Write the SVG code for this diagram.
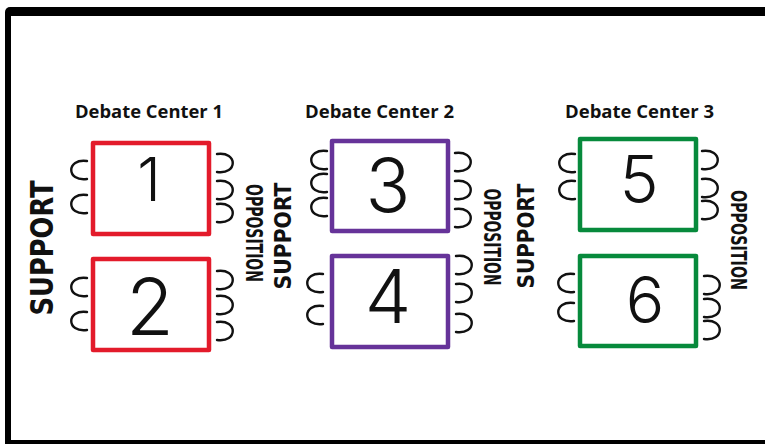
<svg xmlns="http://www.w3.org/2000/svg" xmlns:xlink="http://www.w3.org/1999/xlink" width="765" height="444" viewBox="0 0 765 444">
  <style>
    .title { font-family: "Open Sans", "Liberation Sans", sans-serif; font-weight: 700; font-size: 18px; fill: #111; }
    .table { fill: none; stroke-width: 4.5; stroke-linejoin: round; }
    .red { stroke: #e31b2b; }
    .purple { stroke: #663399; }
    .green { stroke: #078a3c; }
    .num { font-family: "Inter", "Lato", sans-serif; font-weight: 300; fill: #111; text-anchor: middle; }
    .side { font-family: "DejaVu Sans Condensed", "DejaVu Sans", sans-serif; font-weight: 700; fill: #111; text-anchor: middle; dominant-baseline: central; }
    .chair { fill: none; stroke: #111; stroke-width: 2.4; stroke-linecap: round; }
  </style>
  <defs>
    <!-- chair seen from above, opening toward the table -->
    <path id="chairL" class="chair" d="M 9 -9 C -12 -12, -12 12, 9 9"/>
    <path id="chairR" class="chair" d="M -9 -9 C 12 -12, 12 12, -9 9"/>
  </defs>

  <rect width="765" height="444" fill="#fff"/>
  <!-- frame -->
  <rect x="5" y="7" width="800" height="460" rx="5" fill="#000"/>
  <rect x="11" y="16" width="800" height="424" fill="#fff"/>

  <!-- center titles -->
  <text class="title" x="75" y="118" textLength="148" lengthAdjust="spacingAndGlyphs">Debate Center 1</text>
  <text class="title" x="305" y="118" textLength="149" lengthAdjust="spacingAndGlyphs">Debate Center 2</text>
  <text class="title" x="565" y="118" textLength="149" lengthAdjust="spacingAndGlyphs">Debate Center 3</text>

  <!-- Center 1 -->
  <g id="table1">
    <rect class="table red" x="93" y="143" width="116" height="91"/>
    <text class="num" x="149" y="201" font-size="60">1</text>
    <use xlink:href="#chairL" x="78" y="170"/>
    <use xlink:href="#chairL" x="78" y="204"/>
    <use xlink:href="#chairR" x="226" y="163"/>
    <use xlink:href="#chairR" x="226" y="190"/>
    <use xlink:href="#chairR" x="226" y="213"/>
  </g>
  <g id="table2">
    <rect class="table red" x="93" y="259" width="116" height="91"/>
    <text class="num" x="150" y="335" font-size="78">2</text>
    <use xlink:href="#chairL" x="78" y="287"/>
    <use xlink:href="#chairL" x="78" y="321"/>
    <use xlink:href="#chairR" x="226" y="280"/>
    <use xlink:href="#chairR" x="226" y="305"/>
    <use xlink:href="#chairR" x="226" y="331"/>
  </g>

  <!-- Center 2 -->
  <g id="table3">
    <rect class="table purple" x="332" y="141" width="116" height="90"/>
    <text class="num" x="388" y="212" font-size="74">3</text>
    <use xlink:href="#chairL" x="318" y="160"/>
    <use xlink:href="#chairL" x="318" y="183"/>
    <use xlink:href="#chairL" x="318" y="207"/>
    <use xlink:href="#chairR" x="464" y="162"/>
    <use xlink:href="#chairR" x="464" y="190"/>
    <use xlink:href="#chairR" x="464" y="218"/>
  </g>
  <g id="table4">
    <rect class="table purple" x="332" y="256" width="116" height="91"/>
    <text class="num" x="388" y="323" font-size="74">4</text>
    <use xlink:href="#chairL" x="314" y="283"/>
    <use xlink:href="#chairL" x="314" y="315"/>
    <use xlink:href="#chairR" x="465" y="265"/>
    <use xlink:href="#chairR" x="465" y="293"/>
    <use xlink:href="#chairR" x="465" y="323"/>
  </g>

  <!-- Center 3 -->
  <g id="table5">
    <rect class="table green" x="580" y="139" width="116" height="91"/>
    <text class="num" x="639" y="203" font-size="66">5</text>
    <use xlink:href="#chairL" x="566" y="163"/>
    <use xlink:href="#chairL" x="566" y="190"/>
    <use xlink:href="#chairR" x="711" y="160"/>
    <use xlink:href="#chairR" x="711" y="188"/>
    <use xlink:href="#chairR" x="711" y="210"/>
  </g>
  <g id="table6">
    <rect class="table green" x="580" y="256" width="116" height="90"/>
    <text class="num" x="645" y="323" font-size="64">6</text>
    <use xlink:href="#chairL" x="565" y="283"/>
    <use xlink:href="#chairL" x="565" y="312"/>
    <use xlink:href="#chairR" x="713" y="285"/>
    <use xlink:href="#chairR" x="713" y="308"/>
    <use xlink:href="#chairR" x="713" y="330"/>
  </g>

  <!-- side labels -->
  <g id="sides">
    <text class="side" font-size="32" transform="translate(42 248) rotate(-90)" textLength="135" lengthAdjust="spacingAndGlyphs">SUPPORT</text>
    <text class="side" font-size="23" transform="translate(254 233) rotate(90)" textLength="98" lengthAdjust="spacingAndGlyphs">OPPOSITION</text>
    <text class="side" font-size="23" transform="translate(283 236) rotate(-90)" textLength="107" lengthAdjust="spacingAndGlyphs">SUPPORT</text>
    <text class="side" font-size="23" transform="translate(492 237) rotate(90)" textLength="97" lengthAdjust="spacingAndGlyphs">OPPOSITION</text>
    <text class="side" font-size="23" transform="translate(526 236) rotate(-90)" textLength="105" lengthAdjust="spacingAndGlyphs">SUPPORT</text>
    <text class="side" font-size="21" transform="translate(738 240) rotate(90)" textLength="100" lengthAdjust="spacingAndGlyphs">OPPOSITION</text>
  </g>
</svg>
